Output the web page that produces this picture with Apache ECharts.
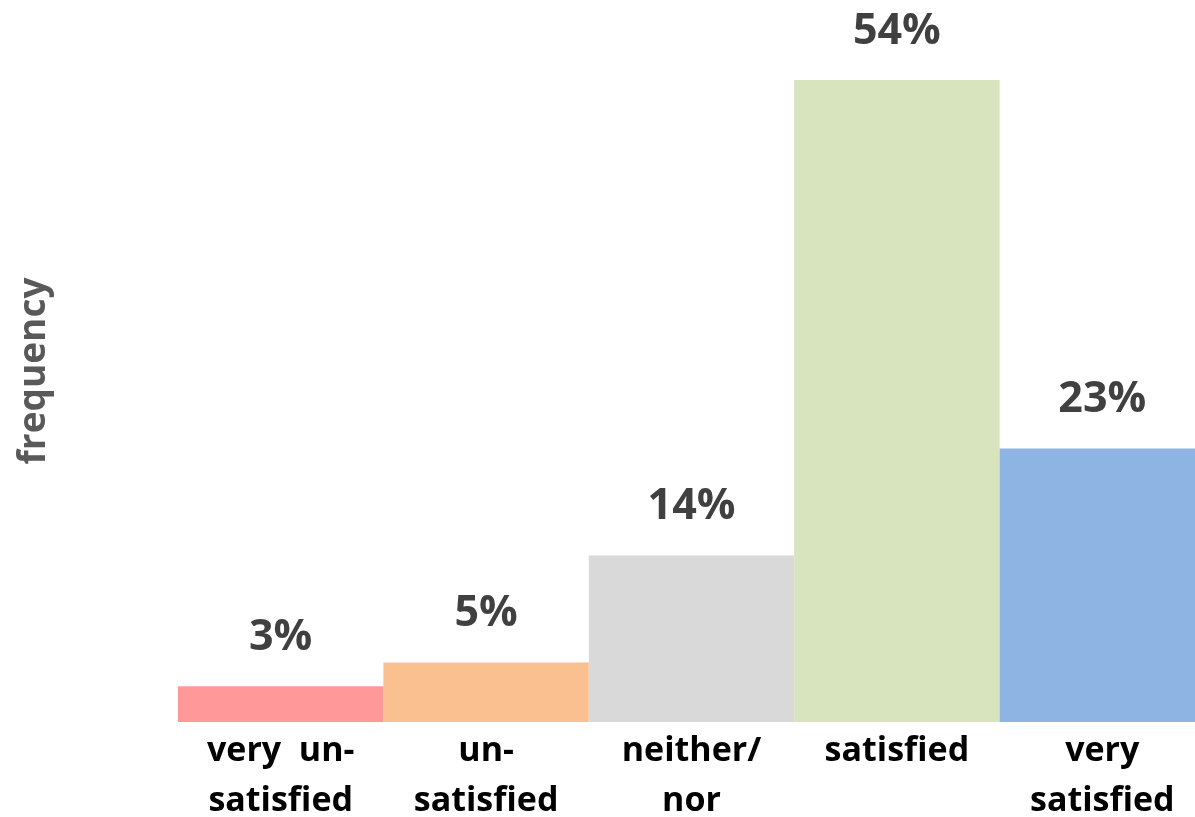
<!DOCTYPE html>
<html>
<head>
<meta charset="utf-8">
<script src="https://cdn.jsdelivr.net/npm/echarts@6/dist/echarts.min.js"></script>
<style>html,body{margin:0;padding:0;background:#fff;overflow:hidden;}#c{width:1195px;height:817px;}</style>
</head>
<body>
<div id="c"></div>
<script>
const categories = ['very  un-\nsatisfied', 'un-\nsatisfied', 'neither/\nnor', 'satisfied', 'very\nsatisfied'];
const values = [3, 5, 14, 54, 23];
const colors = ['#FF9999', '#FAC090', '#D9D9D9', '#D7E4BD', '#8EB4E3'];
const yAxisName = 'frequency';

const chart = echarts.init(document.getElementById('c'));
chart.setOption({
  animation: false,
  backgroundColor: '#ffffff',
  grid: { left: 178, right: -10, top: 80, bottom: 95, containLabel: false, outerBoundsMode: 'none' },
  xAxis: {
    type: 'category',
    data: categories,
    axisLine: { show: false },
    axisTick: { show: false },
    axisLabel: {
      interval: 0,
      fontFamily: 'Open Sans',
      fontWeight: 'bold',
      fontSize: 34,
      lineHeight: 50,
      color: '#000000',
      margin: 4
    }
  },
  yAxis: {
    type: 'value',
    min: 0,
    max: 54,
    axisLine: { show: false },
    axisTick: { show: false },
    axisLabel: { show: false },
    splitLine: { show: false },
    name: yAxisName,
    nameLocation: 'middle',
    nameRotate: 90,
    nameGap: 125,
    nameTextStyle: {
      fontFamily: 'Open Sans',
      fontWeight: 'bold',
      fontSize: 37,
      color: '#595959',
      padding: [0, 0, 0, 60]
    }
  },
  series: [{
    type: 'bar',
    barCategoryGap: '0%',
    data: values.map((v, i) => ({ value: v, itemStyle: { color: colors[i] } })),
    label: {
      show: true,
      position: 'top',
      distance: 27,
      formatter: '{c}%',
      fontFamily: 'Open Sans',
      fontWeight: 'bold',
      fontSize: 43,
      color: '#404040'
    }
  }]
});
</script>
</body>
</html>
